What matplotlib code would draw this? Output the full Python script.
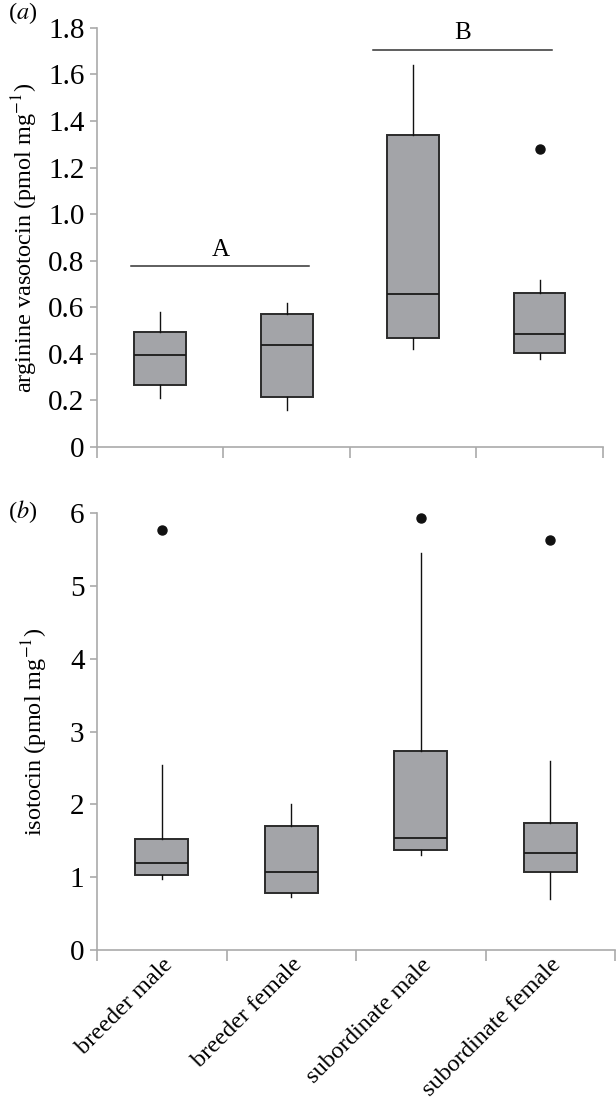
import matplotlib
matplotlib.use("Agg")
import matplotlib.pyplot as plt

plt.rcParams['font.family'] = ['Liberation Serif', 'DejaVu Serif']
plt.rcParams['mathtext.fontset'] = 'stix'

groups = ['breeder male', 'breeder female', 'subordinate male', 'subordinate female']

# (a) arginine vasotocin: whisker low, Q1, median, Q3, whisker high, outliers
avt_lo = [0.211, 0.161, 0.420, 0.380]
avt_q1 = [0.266, 0.216, 0.470, 0.406]
avt_med = [0.397, 0.438, 0.659, 0.484]
avt_q3 = [0.494, 0.572, 1.342, 0.663]
avt_hi = [0.579, 0.619, 1.639, 0.719]
avt_out = [[], [], [], [1.279]]

# (b) isotocin
it_lo = [0.975, 0.73, 1.31, 0.695]
it_q1 = [1.03, 0.78, 1.37, 1.065]
it_med = [1.19, 1.065, 1.54, 1.33]
it_q3 = [1.52, 1.71, 2.74, 1.74]
it_hi = [2.54, 2.00, 5.46, 2.60]
it_out = [[5.77], [], [5.94], [5.63]]

box_fill = '#a3a4a8'
spine_col = '#aaaaaa'


def make_stats(lo, q1, med, q3, hi, out):
    return [dict(whislo=a, q1=b, med=c, q3=d, whishi=e, fliers=f)
            for a, b, c, d, e, f in zip(lo, q1, med, q3, hi, out)]


def draw_boxes(ax, stats):
    pos = [i + 0.5 for i in range(len(stats))]
    ax.bxp(stats, positions=pos, widths=0.41, patch_artist=True, showcaps=False,
           boxprops=dict(facecolor=box_fill, edgecolor='#2b2b2b', linewidth=1.4),
           medianprops=dict(color='#1a1a1a', linewidth=1.3),
           whiskerprops=dict(color='#111111', linewidth=1.0),
           flierprops=dict(marker='o', markerfacecolor='#111111',
                           markeredgecolor='#111111', markersize=6.5))
    ax.set_xlim(0, 4)
    ax.set_xticks(range(5))
    ax.set_xticklabels([])
    for s in ['top', 'right']:
        ax.spines[s].set_visible(False)
    for s in ['left', 'bottom']:
        ax.spines[s].set_color(spine_col)
        ax.spines[s].set_linewidth(1.2)
    ax.tick_params(axis='x', which='major', length=8, color=spine_col, width=1.2)
    ax.tick_params(axis='y', length=5, color=spine_col, width=1.2,
                   labelsize=21, pad=4)


fig = plt.figure(figsize=(6.16, 11.03), dpi=100)
ax1 = fig.add_axes([0.1575, 0.5947, 0.821, 0.380])
ax2 = fig.add_axes([0.1575, 0.1387, 0.841, 0.396])

draw_boxes(ax1, make_stats(avt_lo, avt_q1, avt_med, avt_q3, avt_hi, avt_out))
ax1.set_ylim(0, 1.8)
ax1.set_yticks([0, 0.2, 0.4, 0.6, 0.8, 1.0, 1.2, 1.4, 1.6, 1.8])
ax1.set_yticklabels(['0', '0.2', '0.4', '0.6', '0.8', '1.0', '1.2', '1.4', '1.6', '1.8'])
ax1.set_ylabel('arginine vasotocin (pmol mg$^{-1}$)', fontsize=17.5, labelpad=6)

# significance groups
ax1.plot([0.27, 1.68], [0.778, 0.778], color='#333333', linewidth=1.1)
ax1.text(0.975, 0.80, 'A', ha='center', va='bottom', fontsize=18)
ax1.plot([2.18, 3.6], [1.707, 1.707], color='#333333', linewidth=1.1)
ax1.text(2.89, 1.73, 'B', ha='center', va='bottom', fontsize=18)

draw_boxes(ax2, make_stats(it_lo, it_q1, it_med, it_q3, it_hi, it_out))
ax2.set_ylim(0, 6)
ax2.set_yticks(range(7))
ax2.set_ylabel('isotocin (pmol mg$^{-1}$)', fontsize=17.5, labelpad=14)
ax2.set_xticks([i + 0.5 for i in range(4)], minor=True)
ax2.set_xticklabels(groups, minor=True, rotation=45, ha='right',
                    rotation_mode='anchor', fontsize=17.5)
ax2.tick_params(axis='x', which='minor', length=0, pad=3)

fig.text(0.013, 0.988, '($a$)', fontsize=17.5, va='center')
fig.text(0.013, 0.536, '($b$)', fontsize=17.5, va='center')

fig.savefig('out.png', dpi=100)
